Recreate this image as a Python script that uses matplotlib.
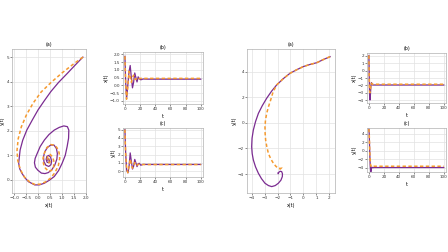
import matplotlib
matplotlib.use("Agg")
import matplotlib.pyplot as plt
import numpy as np

PURPLE = "#7b2c91"
ORANGE = "#f59a2f"

# left system, phase portrait (x, y)
left_purple_x = [1.87, 1.55, 1.21, 0.85, 0.53, 0.25, -0.01, -0.25, -0.48, -0.65, -0.76,
                 -0.82, -0.78, -0.69, -0.56, -0.41, -0.15, 0.05, 0.26, 0.48, 0.67, 0.85,
                 1.0, 1.13, 1.21, 1.27, 1.28, 1.22, 1.07, 0.88, 0.67, 0.45, 0.26, 0.08,
                 -0.04, -0.13, -0.16, -0.12, -0.02, 0.13, 0.28, 0.42, 0.57, 0.69, 0.78,
                 0.80, 0.76, 0.66, 0.52, 0.38, 0.27, 0.22, 0.24, 0.32, 0.44, 0.53, 0.56,
                 0.52, 0.44, 0.36, 0.33, 0.37, 0.44, 0.47, 0.44, 0.40, 0.40]
left_purple_y = [5.0, 4.68, 4.33, 3.97, 3.6, 3.22, 2.85, 2.44, 2.03, 1.62, 1.22, 0.69,
                 0.46, 0.28, 0.09, -0.07, -0.2, -0.2, -0.13, 0.0, 0.14, 0.38, 0.68, 1.0,
                 1.36, 1.7, 2.03, 2.17, 2.2, 2.14, 2.03, 1.85, 1.63, 1.36, 1.09, 0.88,
                 0.7, 0.52, 0.4, 0.28, 0.26, 0.3, 0.42, 0.6, 0.85, 1.08, 1.28, 1.42, 1.42,
                 1.32, 1.14, 0.94, 0.74, 0.6, 0.55, 0.62, 0.76, 0.92, 1.0, 0.96, 0.84,
                 0.72, 0.7, 0.78, 0.86, 0.84, 0.81]
left_orange_x = [1.87, 1.45, 1.0, 0.55, 0.12, -0.22, -0.5, -0.71, -0.84, -0.89, -0.86,
                 -0.75, -0.58, -0.36, -0.15, 0.08, 0.3, 0.52, 0.7, 0.84, 0.9, 0.87, 0.78,
                 0.67, 0.52, 0.36, 0.26, 0.2, 0.22, 0.3, 0.42, 0.55, 0.64, 0.66, 0.6,
                 0.5, 0.42, 0.38, 0.4, 0.46, 0.51, 0.5, 0.46, 0.45]
left_orange_y = [5.0, 4.7, 4.36, 3.98, 3.58, 3.12, 2.64, 2.16, 1.68, 1.2, 0.8, 0.42, 0.12,
                 -0.08, -0.18, -0.17, -0.08, 0.08, 0.3, 0.58, 0.88, 1.12, 1.32, 1.42,
                 1.44, 1.32, 1.1, 0.88, 0.66, 0.48, 0.36, 0.38, 0.52, 0.74, 0.94, 1.04,
                 1.0, 0.88, 0.76, 0.7, 0.76, 0.84, 0.84, 0.8]

# left system, time series
left_t = [0, 1, 2.3, 4, 5.5, 7, 8.5, 10, 11.5, 13, 14.5, 16, 17.5, 19, 21, 24, 30, 100]
left_purple_xt = [1.87, 0.2, -0.82, 0.1, 0.9, 1.28, 0.5, -0.16, 0.2, 0.8, 0.5, 0.22, 0.55,
                  0.42, 0.36, 0.41, 0.40, 0.40]
left_purple_yt = [5.0, 2.2, 0.1, -0.2, 0.6, 2.2, 1.2, 0.26, 0.6, 1.42, 1.0, 0.55, 0.9,
                  0.95, 0.72, 0.82, 0.81, 0.81]
left_orange_t = [0, 1, 2.2, 3.8, 5.5, 7, 8.5, 10, 11.5, 13, 14.5, 16, 18, 21, 30, 100]
left_orange_xt = [1.87, 0.1, -0.89, -0.1, 0.9, 0.6, 0.2, 0.5, 0.66, 0.4, 0.38, 0.5, 0.44,
                  0.45, 0.45, 0.45]
left_orange_yt = [5.0, 2.0, 0.5, -0.18, 0.6, 1.44, 0.9, 0.36, 0.6, 1.04, 0.75, 0.72, 0.84,
                  0.8, 0.8, 0.8]

# right system, phase portrait
right_purple_x = [2.06, 1.55, 1.03, 0.5, 0.0, -0.52, -1.04, -1.56, -2.07, -2.47, -2.84,
                  -3.18, -3.48, -3.7, -3.87, -3.97, -4.0, -3.96, -3.87, -3.7, -3.48, -3.24,
                  -2.97, -2.7, -2.45, -2.18, -1.94, -1.74, -1.63, -1.62, -1.68, -1.8, -1.9,
                  -1.95, -1.93, -1.95]
right_purple_y = [5.17, 4.95, 4.7, 4.56, 4.4, 4.15, 3.87, 3.45, 2.96, 2.46, 1.92, 1.34,
                  0.74, 0.1, -0.56, -1.2, -1.86, -2.4, -2.9, -3.44, -3.94, -4.36, -4.72,
                  -4.9, -4.98, -4.9, -4.72, -4.48, -4.2, -3.98, -3.81, -3.78, -3.86, -3.98,
                  -3.92, -3.9]
right_orange_x = [2.06, 1.55, 1.03, 0.5, 0.0, -0.52, -1.04, -1.56, -2.07, -2.35, -2.53,
                  -2.7, -2.84, -2.93, -2.97, -2.96, -2.92, -2.83, -2.71, -2.53, -2.32, -2.12,
                  -1.94, -1.78, -1.68, -1.72, -1.82, -1.85]
right_orange_y = [5.17, 4.95, 4.7, 4.56, 4.4, 4.15, 3.87, 3.45, 2.96, 2.4, 1.79, 1.26,
                  0.74, 0.22, -0.3, -0.82, -1.34, -1.86, -2.38, -2.8, -3.16, -3.4, -3.55,
                  -3.6, -3.5, -3.42, -3.55, -3.6]

right_t = [0, 0.5, 1.0, 1.5, 2.0, 2.5, 3.0, 3.5, 4.0, 5, 7, 100]
right_purple_xt = [2.06, -1.0, -3.5, -4.0, -3.4, -2.45, -1.8, -1.62, -1.8, -1.95, -1.95,
                   -1.95]
right_purple_yt = [5.17, 3.9, 0.7, -2.0, -4.0, -4.98, -4.6, -4.0, -3.8, -3.95, -3.9, -3.9]
right_orange_xt = [2.06, -1.0, -2.8, -3.0, -2.7, -2.1, -1.75, -1.7, -1.85, -1.85, -1.85,
                   -1.85]
right_orange_yt = [5.17, 3.9, 0.8, -1.3, -2.8, -3.5, -3.6, -3.45, -3.6, -3.6, -3.6, -3.6]

t_ticks = [0, 20, 40, 60, 80, 100]

W, H = 448, 252


def box(x0, y0, x1, y1):
    return [x0 / W, 1 - y1 / H, (x1 - x0) / W, (y1 - y0) / H]


def style(ax, title, xlabel, ylabel):
    ax.set_title(title, fontsize=3.4, pad=2)
    ax.set_xlabel(xlabel, fontsize=3.4, labelpad=2)
    ax.set_ylabel(ylabel, fontsize=3.4, labelpad=1)
    ax.tick_params(labelsize=3.0, length=1.2, width=0.4, pad=1, colors="#333333")
    ax.grid(True, color="#e2e2e2", lw=0.5)
    ax.set_axisbelow(True)
    for s in ax.spines.values():
        s.set_color("#b0b0b0")
        s.set_linewidth(0.5)


def draw(ax, px, py, ox, oy):
    ax.plot(px, py, color=PURPLE, lw=0.9)
    ax.plot(ox, oy, color=ORANGE, lw=1.1, ls=(0, (2.2, 1.6)))


fig = plt.figure(figsize=(W / 100, H / 100), dpi=100)

ax = fig.add_axes(box(12, 49, 86, 193))
draw(ax, left_purple_x, left_purple_y, left_orange_x, left_orange_y)
ax.set_xlim(-1.1, 2.0)
ax.set_ylim(-0.53, 5.33)
ax.set_xticks([-1.0, -0.5, 0.0, 0.5, 1.0, 1.5, 2.0])
style(ax, "(a)", "x(t)", "y(t)")

ax = fig.add_axes(box(123, 52, 203, 104))
draw(ax, left_t, left_purple_xt, left_orange_t, left_orange_xt)
ax.set_xlim(-2.5, 103)
ax.set_ylim(-1.2, 2.15)
ax.set_xticks(t_ticks)
ax.set_yticks([-1.0, -0.5, 0.0, 0.5, 1.0, 1.5, 2.0])
style(ax, "(b)", "t", "x(t)")

ax = fig.add_axes(box(123, 128, 203, 177))
draw(ax, left_t, left_purple_yt, left_orange_t, left_orange_yt)
ax.set_xlim(-2.5, 103)
ax.set_ylim(-0.7, 5.2)
ax.set_xticks(t_ticks)
ax.set_yticks([0, 1, 2, 3, 4, 5])
style(ax, "(c)", "t", "y(t)")

ax = fig.add_axes(box(247, 49, 335, 193))
draw(ax, right_purple_x, right_purple_y, right_orange_x, right_orange_y)
ax.set_xlim(-4.36, 2.44)
ax.set_ylim(-5.48, 5.77)
ax.set_xticks([-4, -3, -2, -1, 0, 1, 2])
ax.set_yticks([-4, -2, 0, 2, 4])
style(ax, "(a)", "x(t)", "y(t)")

ax = fig.add_axes(box(367, 53, 446, 103))
draw(ax, right_t, right_purple_xt, right_t, right_orange_xt)
ax.set_xlim(-2.5, 103)
ax.set_ylim(-4.4, 2.4)
ax.set_xticks(t_ticks)
ax.set_yticks([-4, -3, -2, -1, 0, 1, 2])
style(ax, "(b)", "t", "x(t)")

ax = fig.add_axes(box(367, 128, 446, 172))
draw(ax, right_t, right_purple_yt, right_t, right_orange_yt)
ax.set_xlim(-2.5, 103)
ax.set_ylim(-4.95, 5.4)
ax.set_xticks(t_ticks)
ax.set_yticks([-4, -2, 0, 2, 4])
style(ax, "(c)", "t", "y(t)")

fig.savefig("out.png", dpi=100)
